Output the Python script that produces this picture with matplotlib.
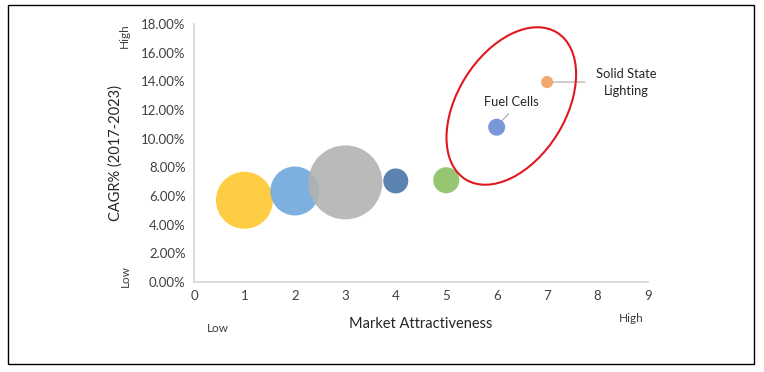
import matplotlib
matplotlib.use("Agg")
import matplotlib.pyplot as plt
from matplotlib.patches import Ellipse, Rectangle
from matplotlib.transforms import IdentityTransform
from matplotlib.ticker import FuncFormatter

plt.rcParams['font.family'] = ['Lato', 'DejaVu Sans']

# Data
market_attractiveness = [1, 2, 3, 4, 5, 6, 7]
cagr = [5.7, 6.35, 6.95, 7.05, 7.1, 10.8, 13.95]
bubble_size = [32.5, 24.0, 54.8, 6.25, 6.8, 2.9, 1.45]
colors = ['#FFC830', '#6FA8DC', '#B3B3B3', '#4A76A8', '#8CC063', '#6A8DD6', '#F0A060']
labels = {5: 'Fuel Cells', 6: 'Solid State\nLighting'}
x_ticks = list(range(0, 10))
y_ticks = list(range(0, 20, 2))

W, H, DPI = 764, 372, 100
fig = plt.figure(figsize=(W / DPI, H / DPI), dpi=DPI)
L, R, T, B = 194, 648, 24, 282
ax = fig.add_axes([L / W, 1 - B / H, (R - L) / W, (B - T) / H])

# bubble area: s = size * k  (points^2)
k = 100 * 0.72 ** 2
ax.scatter(market_attractiveness, cagr, s=[v * k for v in bubble_size],
           c=colors, alpha=0.9, linewidths=0, zorder=3)

ax.set_xlim(0, 9)
ax.set_ylim(0, 18)
ax.set_xticks(x_ticks)
ax.set_yticks(y_ticks)
ax.yaxis.set_major_formatter(FuncFormatter(lambda v, p: f"{v:.2f}%"))
ax.tick_params(length=0, labelsize=9.5, labelcolor='#404040', pad=6)
for s in ['top', 'right']:
    ax.spines[s].set_visible(False)
for s in ['left', 'bottom']:
    ax.spines[s].set_color('#D9D9D9')
    ax.spines[s].set_linewidth(1.3)

# labels with leader lines
ax.annotate(labels[5], xy=(6.12, 11.3), xytext=(6.29, 12.56), ha='center', va='center',
            fontsize=9.3, color='#262626',
            arrowprops=dict(arrowstyle='-', color='#A6A6A6', lw=0.8, shrinkA=3, shrinkB=0,
                            relpos=(0.55, 0)))
ax.annotate(labels[6], xy=(7.12, 13.95), xytext=(8.57, 13.95), ha='center', va='center',
            fontsize=9.3, color='#262626', linespacing=1.5,
            arrowprops=dict(arrowstyle='-', color='#A6A6A6', lw=0.8, shrinkA=6, shrinkB=0,
                            relpos=(0, 0.5)))

# red ellipse highlighting
fig.canvas.draw()
cx, cy = ax.transData.transform((6.29, 12.28))
ell = Ellipse((cx, cy), width=173, height=108, angle=58, fill=False,
              edgecolor='#E0191E', linewidth=1.5, transform=IdentityTransform(), zorder=4)
ax.add_artist(ell)

# axis titles & qualifiers
def fx(px):
    return px / W

def fy(py):
    return 1 - py / H

fig.text(fx(116), fy(153), 'CAGR% (2017-2023)', rotation=90, ha='center', va='center',
         fontsize=10.5, color='#262626')
fig.text(fx(421), fy(324), 'Market Attractiveness', ha='center', va='center',
         fontsize=10.5, color='#262626')
fig.text(fx(124), fy(36), 'High', rotation=90, ha='center', va='center',
         fontsize=8.5, color='#404040')
fig.text(fx(125), fy(276), 'Low', rotation=90, ha='center', va='center',
         fontsize=8.5, color='#404040')
fig.text(fx(218), fy(328), 'Low', ha='center', va='center', fontsize=8.5, color='#404040')
fig.text(fx(631), fy(319), 'High', ha='center', va='center', fontsize=8.5, color='#404040')

# outer frame
fig.patches.append(Rectangle((fx(8), fy(364)), fx(754) - fx(8), fy(5) - fy(364),
                             transform=fig.transFigure, fill=False, edgecolor='black',
                             linewidth=1.0))

fig.savefig('out.png', dpi=DPI)
